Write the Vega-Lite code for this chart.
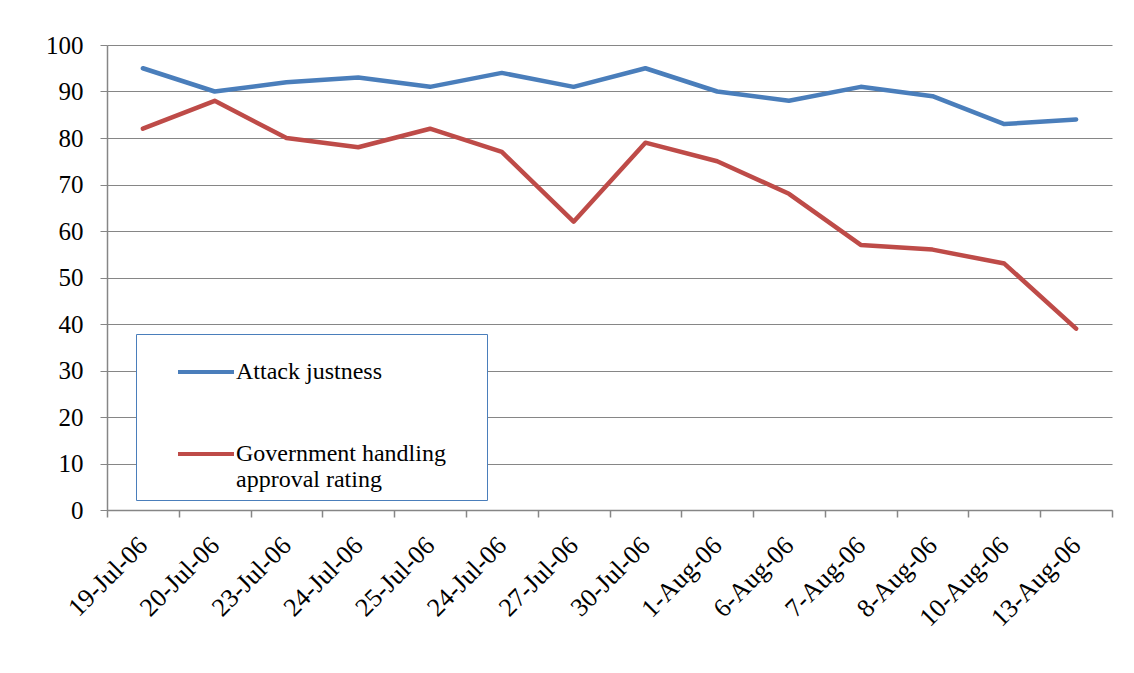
{
  "$schema": "https://vega.github.io/schema/vega-lite/v6.json",
  "autosize": "none",
  "width": 1005,
  "height": 465,
  "padding": {"left": 107, "top": 45, "right": 22, "bottom": 163},
  "background": "white",
  "config": {
    "font": "Liberation Serif",
    "view": {"stroke": null},
    "axis": {"labelFont": "Liberation Serif", "labelColor": "black", "domainColor": "#868686", "tickColor": "#868686", "gridColor": "#868686", "titleFont": "Liberation Serif"},
    "legend": {"labelFont": "Liberation Serif", "titleFont": "Liberation Serif"}
  },
  "data": {
    "values": [
      {"date": "19-Jul-06", "series": "Attack justness", "value": 95},
      {"date": "20-Jul-06", "series": "Attack justness", "value": 90},
      {"date": "23-Jul-06", "series": "Attack justness", "value": 92},
      {"date": "24-Jul-06", "series": "Attack justness", "value": 93},
      {"date": "25-Jul-06", "series": "Attack justness", "value": 91},
      {"date": "24-Jul-06\u200b", "series": "Attack justness", "value": 94},
      {"date": "27-Jul-06", "series": "Attack justness", "value": 91},
      {"date": "30-Jul-06", "series": "Attack justness", "value": 95},
      {"date": "1-Aug-06", "series": "Attack justness", "value": 90},
      {"date": "6-Aug-06", "series": "Attack justness", "value": 88},
      {"date": "7-Aug-06", "series": "Attack justness", "value": 91},
      {"date": "8-Aug-06", "series": "Attack justness", "value": 89},
      {"date": "10-Aug-06", "series": "Attack justness", "value": 83},
      {"date": "13-Aug-06", "series": "Attack justness", "value": 84},
      {"date": "19-Jul-06", "series": "Government handling approval rating", "value": 82},
      {"date": "20-Jul-06", "series": "Government handling approval rating", "value": 88},
      {"date": "23-Jul-06", "series": "Government handling approval rating", "value": 80},
      {"date": "24-Jul-06", "series": "Government handling approval rating", "value": 78},
      {"date": "25-Jul-06", "series": "Government handling approval rating", "value": 82},
      {"date": "24-Jul-06\u200b", "series": "Government handling approval rating", "value": 77},
      {"date": "27-Jul-06", "series": "Government handling approval rating", "value": 62},
      {"date": "30-Jul-06", "series": "Government handling approval rating", "value": 79},
      {"date": "1-Aug-06", "series": "Government handling approval rating", "value": 75},
      {"date": "6-Aug-06", "series": "Government handling approval rating", "value": 68},
      {"date": "7-Aug-06", "series": "Government handling approval rating", "value": 57},
      {"date": "8-Aug-06", "series": "Government handling approval rating", "value": 56},
      {"date": "10-Aug-06", "series": "Government handling approval rating", "value": 53},
      {"date": "13-Aug-06", "series": "Government handling approval rating", "value": 39}
    ]
  },
  "mark": {"type": "line", "strokeWidth": 4.5, "strokeCap": "round", "strokeJoin": "round"},
  "encoding": {
    "x": {
      "field": "date",
      "type": "ordinal",
      "sort": null,
      "bandPosition": 0.5,
      "scale": {"type": "band", "paddingInner": 0, "paddingOuter": 0},
      "axis": {"title": null, "labelFont": "Liberation Serif", "labelAngle": -45, "labelAlign": "right", "labelBaseline": "middle", "labelFontSize": 26, "labelPadding": 24, "tickBand": "extent", "tickSize": 7, "grid": false, "domainWidth": 1.5, "tickWidth": 1.5}
    },
    "y": {
      "field": "value",
      "type": "quantitative",
      "scale": {"domain": [0, 100], "nice": false, "zero": true},
      "axis": {"title": null, "labelFont": "Liberation Serif", "values": [0,10,20,30,40,50,60,70,80,90,100], "labelFontSize": 25, "labelPadding": 17, "tickSize": 7, "gridWidth": 1.2, "domainWidth": 1.5}
    },
    "color": {
      "field": "series",
      "type": "nominal",
      "scale": {"domain": ["Attack justness", "Government handling approval rating"], "range": ["#4a7ebb", "#be4b48"]},
      "legend": {
        "orient": "none",
        "legendX": 29,
        "legendY": 289,
        "title": "\u00a0",
        "titleOrient": "right",
        "titlePadding": 33,
        "fillColor": "white",
        "strokeColor": "#4a7ebb",
        "padding": 8,
        "symbolType": "stroke",
        "symbolSize": 3136,
        "symbolStrokeWidth": 4,
        "symbolOffset": 32,
        "labelFont": "Liberation Serif",
        "labelFontSize": 24,
        "labelColor": "black",
        "labelOffset": 0,
        "labelLimit": 400,
        "rowPadding": 40,
        "labelExpr": "datum.label == 'Government handling approval rating' ? ['Government handling', 'approval rating'] : datum.label"
      }
    }
  }
}
